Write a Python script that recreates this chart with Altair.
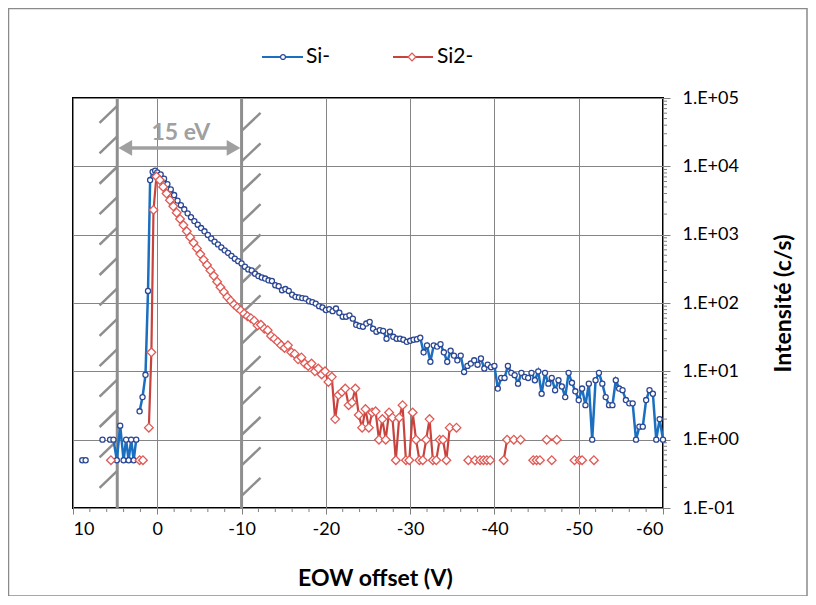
import altair as alt
import pandas as pd
import numpy as np

# ---------------- data ----------------
# Si- (blue): irregular start (None = zero count -> gap on log scale)
si_pre_x = [8.9, 8.5, None, 6.5, None, 5.6, 5.2, 4.8, 4.4, 4.0, 3.7, 3.4, 3.1, 2.8, 2.5, None,
            2.1, 1.75, 1.4, 1.1, 0.85, 0.55, 0.25, 0.0]
si_pre_y = [0.5, 0.5, None, 1.0, None, 1.0, 1.0, 0.5, 1.6, 0.5, 1.0, 0.5, 1.0, 0.5, 1.0, None,
            2.6, 4.2, 8.9, 150, 6300, 8300, 8650, 8150]
si_grid_start = -0.4
si_grid_step = -0.4
si_grid_y = [
    7600, 6600, 5500, 4600, 3800, 3150, 2700, 2350, 2050, 1800,
    1580, 1400, 1250, 1120, 990, 880, 790, 720, 650, 590,
    540, 490, 445, 410, 380, 340, 310, 300, 268, 248,
    236, 228, 215, 210, 182, 176, 154, 160, 150, 132,
    123, 121, 118, 116, 106, 103, 98, 90, 86, 79,
    81, 76, 83, 72, 63, 63, 66, 59, 48, 46,
    45, 50, 53, 42, 38, 40, 39, 30, 38, 32,
    30, 30, 29, 27, 28, 29, 29.5, 31, 19, 24,
    13.8, 24, 23, 25, 19, 13.8, 20, 17, 14.5, 17,
    9.8, 12, 13, 14.5, 12.5, 15.4, 11, 12.5, 11.5, 12,
    5.6, 8, 8, 12, 9.5, 8.8, 6.6, 9.5, 8.3, 8,
    9.5, 7.4, 10, 4.7, 9.5, 6.6, 8, 5.3, 7.4, 6,
    4.2, 9.5, 6.8, 5.1, 3.8, 5.6, 3.2, 6.6, 1.0, 7.4,
    9.5, 6.6, 4.2, 3.2, 3.2, 7.4, 5.6, 5.3, 3.8, 3.4,
    3.4, 1.0, 1.55, 1.55, 3.8, 5.3, 4.7, 1.0, 2.0, 1.0,
]

# Si2- (red)
si2_pre_x = [5.5, None, 2.1, 1.7, None, 1.0, 0.7, 0.45, 0.1]
si2_pre_y = [0.5, None, 0.5, 0.5, None, 1.5, 19, 2300, 7100]
si2_grid_start = -0.3
si2_grid_step = -0.4
si2_grid_y = [
    6300, 5000, 4000, 3200, 2600, 2100, 1700, 1380, 1120, 920,
    760, 630, 520, 430, 360, 300, 250, 205, 170, 145,
    122, 108, 95, 86, 78, 70, 64, 60, 55, 47,
    48, 42, 40, 33, 30, 27, 24, 22, 24, 19,
    18, 15, 16, 13, 12, 13, 10, 11, 9, 10,
    7, 8.3, 2.0, 4.5, 5.0, 5.6, 3.2, 3.5, 5.6, 2.3,
    1.5, 2.8, 1.5, 2.5, 2.6, 1.0, 2.0, 1.0, 2.5, 2.1,
    0.5, 2.1, 3.2, 0.5, 0.5, 2.5, 1.0, 0.5, 0.5, 1.0,
    2.0, 0.5, 0.5, 1.0, 1.0, 0.5, 1.5, None, 1.5, None,
]
si2_tail_x = [-36.9, None, -37.7, None, -38.3, -38.7, -39.1, -39.5, None, -41.1, -41.5, None,
              -42.3, None, -43.1, None, -44.6, -45.0, -45.4, None, -46.2, -47.4, None, -46.8,
              None, -49.5, None, -50.1, -50.4, None, -51.8]
si2_tail_y = [0.5, None, 0.5, None, 0.5, 0.5, 0.5, 0.5, None, 0.5, 1.0, None,
              1.0, None, 1.0, None, 0.5, 0.5, 0.5, None, 1.0, 1.0, None, 0.5,
              None, 0.5, None, 0.5, 0.5, None, 0.5]

series_names = ["Si-", "Si2-"]
window_lines = [4.75, -10.0]          # EOW window edges (V)
window_label = "15 eV"
x_ticks = [10, 0, -10, -20, -30, -40, -50, -60]
y_ticks = [0.1, 1, 10, 100, 1000, 10000, 100000]

# ---------------- build tables ----------------
def grid(start, step, n):
    return list(np.round(start + step * np.arange(n), 2))


def build(name, xs, ys):
    rows, seg = [], 0
    for x, y in zip(xs, ys):
        if x is None or y is None:
            seg += 1
            continue
        rows.append({"series": name, "x": float(x), "y": float(y), "seg": f"{name}_{seg}"})
    return pd.DataFrame(rows)


si_x = si_pre_x + grid(si_grid_start, si_grid_step, len(si_grid_y))
si_y = si_pre_y + si_grid_y
si2_x = si2_pre_x + grid(si2_grid_start, si2_grid_step, len(si2_grid_y)) + si2_tail_x
si2_y = si2_pre_y + si2_grid_y + si2_tail_y

df_si = build(series_names[0], si_x, si_y)
df_si2 = build(series_names[1], si2_x, si2_y)

# ---------------- styling ----------------
FONT = "Lato"
BLUE = "#1b6fc0"
BLUE_M = "#2c4794"
RED = "#c8433d"
RED_M = "#e05a55"
GRAY = "#8e8e8e"
ARROW = "#a0a0a0"

W, H = 590, 410

X_AX = alt.Axis(values=x_ticks, labelExpr="'' + datum.value", labelFont=FONT, labelFontSize=18,
                labelColor="#000000", labelPadding=6, tickSize=6, tickColor="#808080",
                grid=True, gridColor="#858585", gridWidth=1, domain=False,
                title="EOW offset (V)", titleFont=FONT, titleFontSize=23, titleFontWeight="bold",
                titleColor="#000000", titleX=302, titleY=70, titleAlign="center",
                titleBaseline="middle")
Y_AX = alt.Axis(orient="right", values=y_ticks,
                labelExpr="'1.E' + (datum.value >= 1 ? '+' : '-') + '0' + abs(round(log(datum.value) / LN10))",
                labelFont=FONT, labelFontSize=18, labelColor="#000000", labelPadding=12,
                tickSize=7, tickColor="#808080", grid=True, gridColor="#858585", gridWidth=1,
                domain=False, title="Intensité (c/s)", titleFont=FONT, titleFontSize=23,
                titleFontWeight="bold", titleColor="#000000", titleAngle=270, titleX=120,
                titleY=H / 2, titleAlign="center", titleBaseline="middle")
XS = alt.Scale(domain=[-60, 10], reverse=True, nice=False, zero=False)
YS = alt.Scale(type="log", domain=[0.1, 100000], nice=False)


def X(f="x"):
    return alt.X(f"{f}:Q", scale=XS, axis=X_AX)


def Y(f="y"):
    return alt.Y(f"{f}:Q", scale=YS, axis=Y_AX)


one = pd.DataFrame({"a": [0]})

# frame around whole chart
frame = alt.Chart(one).mark_rect(fill="white", fillOpacity=0, stroke="#8a8a8a", strokeWidth=1.5).encode(
    x=alt.value(-64.5), x2=alt.value(734), y=alt.value(-89.5), y2=alt.value(498))

# minor ticks
x_minor = pd.DataFrame({"x": [v for v in range(-58, 10, 2) if v % 10 != 0]})
xminor = alt.Chart(x_minor).mark_rule(color="#808080", strokeWidth=1).encode(
    x=X(), y=alt.value(H), y2=alt.value(H + 4))
y_minor = pd.DataFrame({"y": [m * 10.0 ** k for k in range(-1, 5) for m in range(2, 10)]})
yminor = alt.Chart(y_minor).mark_rule(color="#808080", strokeWidth=1).encode(
    y=Y(), x=alt.value(W), x2=alt.value(W + 4))

# EOW window lines
win = alt.Chart(pd.DataFrame({"x": window_lines})).mark_rule(color=GRAY, strokeWidth=3).encode(x=X())

# hatching
hl = [4.635 - 0.445 * k for k in range(13)]
hr = [4.518 - 0.445 * k for k in range(13)]
hatch_df = pd.DataFrame(
    [{"x": 6.85, "x2": 4.75, "y": 10 ** b, "y2": 10 ** (b + 0.249)} for b in hl] +
    [{"x": -10.0, "x2": -12.25, "y": 10 ** b, "y2": 10 ** (b + 0.264)} for b in hr])
hatch = alt.Chart(hatch_df).mark_rule(color=GRAY, strokeWidth=2.5).encode(
    x=X(), x2="x2:Q", y=Y(), y2="y2:Q")

# arrow + label
arrow_y = 18600
arr = alt.Chart(pd.DataFrame({"x": [3.9], "x2": [-9.1], "y": [arrow_y]})).mark_rule(
    color=ARROW, strokeWidth=3.5).encode(x=X(), x2="x2:Q", y=Y())
heads = alt.Chart(pd.DataFrame({"x": [3.8, -9.05], "y": [arrow_y] * 2,
                                "s": ["triangle-left", "triangle-right"]})).mark_point(
    filled=True, color=ARROW, size=250, opacity=1).encode(
    x=X(), y=Y(), shape=alt.Shape("s:N", scale=None, legend=None))
lbl = alt.Chart(pd.DataFrame({"x": [-2.8], "y": [30800], "t": [window_label]})).mark_text(
    font=FONT, fontSize=23, fontWeight="bold", color=ARROW, align="center", baseline="middle").encode(
    x=X(), y=Y(), text="t:N")

# series
si_line = alt.Chart(df_si).mark_line(color=BLUE, strokeWidth=2.5).encode(x=X(), y=Y(), detail="seg:N")
si_pts = alt.Chart(df_si).mark_point(shape="circle", size=26, filled=True, fill="white",
                                     stroke=BLUE_M, strokeWidth=1.3, opacity=1).encode(x=X(), y=Y())
si2_line = alt.Chart(df_si2).mark_line(color=RED, strokeWidth=2.2).encode(x=X(), y=Y(), detail="seg:N")
si2_pts = alt.Chart(df_si2).mark_point(shape="diamond", size=75, filled=True, fill="white",
                                       stroke=RED_M, strokeWidth=1.3, opacity=1).encode(x=X(), y=Y())

# manual legend
LY = -41
leg = [
    alt.Chart(one).mark_rule(color=BLUE, strokeWidth=2.2).encode(x=alt.value(189), x2=alt.value(230), y=alt.value(LY)),
    alt.Chart(one).mark_point(shape="circle", size=24, filled=True, fill="white", stroke=BLUE_M,
                              strokeWidth=1.2, opacity=1).encode(x=alt.value(210), y=alt.value(LY)),
    alt.Chart(one).mark_text(text=series_names[0], align="left", baseline="middle", font=FONT,
                             fontSize=21, color="#000000").encode(x=alt.value(233), y=alt.value(LY)),
    alt.Chart(one).mark_rule(color=RED, strokeWidth=2.2).encode(x=alt.value(320), x2=alt.value(360), y=alt.value(LY)),
    alt.Chart(one).mark_point(shape="diamond", size=60, filled=True, fill="white", stroke=RED_M,
                              strokeWidth=1.3, opacity=1).encode(x=alt.value(339), y=alt.value(LY)),
    alt.Chart(one).mark_text(text=series_names[1], align="left", baseline="middle", font=FONT,
                             fontSize=21, color="#000000").encode(x=alt.value(364), y=alt.value(LY)),
]

chart = alt.layer(
    frame, win, hatch, arr, heads, lbl, xminor, yminor,
    si_line, si_pts, si2_line, si2_pts, *leg
).properties(
    width=W, height=H,
    padding={"left": 65, "top": 90, "right": 145, "bottom": 88},
    autosize=alt.AutoSizeParams(type="none"),
).configure_view(stroke="#000000", strokeWidth=2)

chart.save("out.html", embed_options={"renderer": "svg", "actions": False})
